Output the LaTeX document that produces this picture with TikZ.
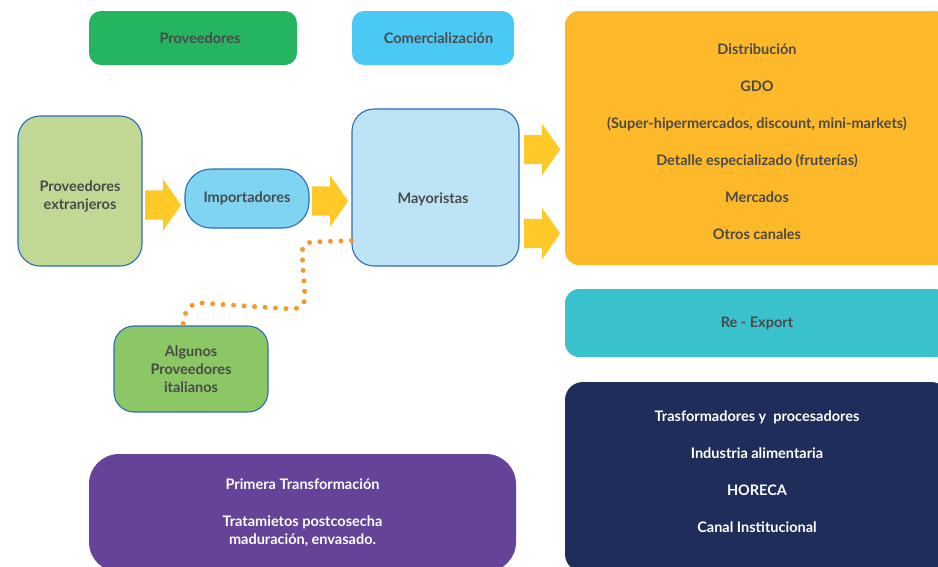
\documentclass[tikz,border=0pt]{standalone}
\usepackage{fontspec}
\setmainfont{Lato}
\usepackage{tikz}
\usetikzlibrary{shapes, shapes.arrows, shapes.misc}

\definecolor{provgreen}{HTML}{25B45F}
\definecolor{comblue}{HTML}{4BC9F5}
\definecolor{extgreen}{HTML}{C1D895}
\definecolor{impblue}{HTML}{7FD4F2}
\definecolor{mayblue}{HTML}{BDE4F4}
\definecolor{distorange}{HTML}{FDB92A}
\definecolor{reteal}{HTML}{3AC2CC}
\definecolor{navyblue}{HTML}{1F2D5B}
\definecolor{italgreen}{HTML}{8BC765}
\definecolor{transpurple}{HTML}{654399}
\definecolor{arrowyellow}{HTML}{FFC928}
\definecolor{dotorange}{HTML}{F39A2F}
\definecolor{edgeblue}{HTML}{2D6CB4}
\definecolor{textgray}{HTML}{4A4A4A}

\tikzset{
  box/.style={rectangle, rounded corners=#1, inner sep=0pt, align=center,
    font=\bfseries\fontsize{14.5}{18}\selectfont, text=textgray},
  box/.default=12pt,
  lbl/.style={inner sep=0pt, align=center,
    font=\bfseries\fontsize{14.5}{18}\selectfont, text=textgray},
  edged/.style={draw=edgeblue, line width=1.1pt},
  yarrow/.style={single arrow, fill=arrowyellow, draw=none, inner xsep=0pt,
    inner ysep=14.5pt, minimum height=36pt, single arrow head extend=11pt,
    single arrow tip angle=110},
  dotline/.style={dotorange, line width=5pt, line cap=round,
    dash pattern=on 0pt off 10.5pt}
}

\begin{document}
\begin{tikzpicture}[x=1pt, y=-1pt]
\useasboundingbox (0,0) rectangle (938,566);
\clip (0,0) rectangle (938,566);
% header boxes
\node[box, fill=provgreen, minimum width=208pt, minimum height=54pt] (prov) at (193,38) {\hspace*{14pt}Proveedores};
\node[box, fill=comblue, minimum width=162pt, minimum height=54pt] (comer) at (433,38) {\hspace*{11pt}Comercialización};
% chain
\node[box=22pt, edged, fill=extgreen, minimum width=124pt, minimum height=150pt] (extr) at (80,191) {};
\node[lbl] (extrtxt) at (80,196.5) {Proveedores\\extranjeros};
\node[box=26pt, edged, fill=impblue, minimum width=124pt, minimum height=59pt] (impo) at (247,198.5) {Importadores};
\node[box=22pt, edged, fill=mayblue, minimum width=167pt, minimum height=157pt] (mayor) at (435.5,187.5) {};
\node[lbl] (mayortxt) at (433,199) {Mayoristas};
\node[box=20pt, edged, fill=italgreen, minimum width=154pt, minimum height=86pt] (ital) at (191,369) {Algunos\\Proveedores\\italianos};
% right column
\node[box=14pt, fill=distorange, minimum width=384pt, minimum height=254pt] (dist) at (757,138) {};
\node[lbl] (disttxt) at (757,142)
  {Distribución\\[19pt]GDO\\[19pt](Super-hipermercados, discount, mini-markets)\\[19pt]Detalle especializado (fruterías)\\[19pt]Mercados\\[19pt]Otros canales};
\node[box=14pt, fill=reteal, minimum width=384pt, minimum height=68pt] (reexp) at (757,323) {Re - Export};
\node[box=18pt, fill=navyblue, minimum width=384pt, minimum height=190pt] (trans) at (757,477) {};
\node[lbl, text=white] (transtxt) at (757,471.5)
  {Trasformadores y\ \ procesadores\\[19pt]Industria alimentaria\\[19pt]HORECA\\[19pt]Canal Institucional};
% bottom box
\node[box=30pt, fill=transpurple, text=white, minimum width=427pt, minimum height=118pt] (prim) at (302.5,513)
  {Primera Transformación\\[19pt]Tratamietos postcosecha\\maduración, envasado.};
% yellow arrows
\node[yarrow] (a1) at (158,205) {};
\node[yarrow] (a2) at (325,201) {};
\node[yarrow] (a3) at (537,149.5) {};
\node[yarrow] (a4) at (537,233.5) {};
% dotted link
\draw[dotline] ([yshift=-53pt]mayor.west) -- (312,242) to[out=180,in=90] (302,252)
  -- (305,298) to[out=-90,in=0] (292,309) -- (200,303) to[out=180,in=90] ([xshift=-8pt]ital.north);
\end{tikzpicture}
\end{document}
